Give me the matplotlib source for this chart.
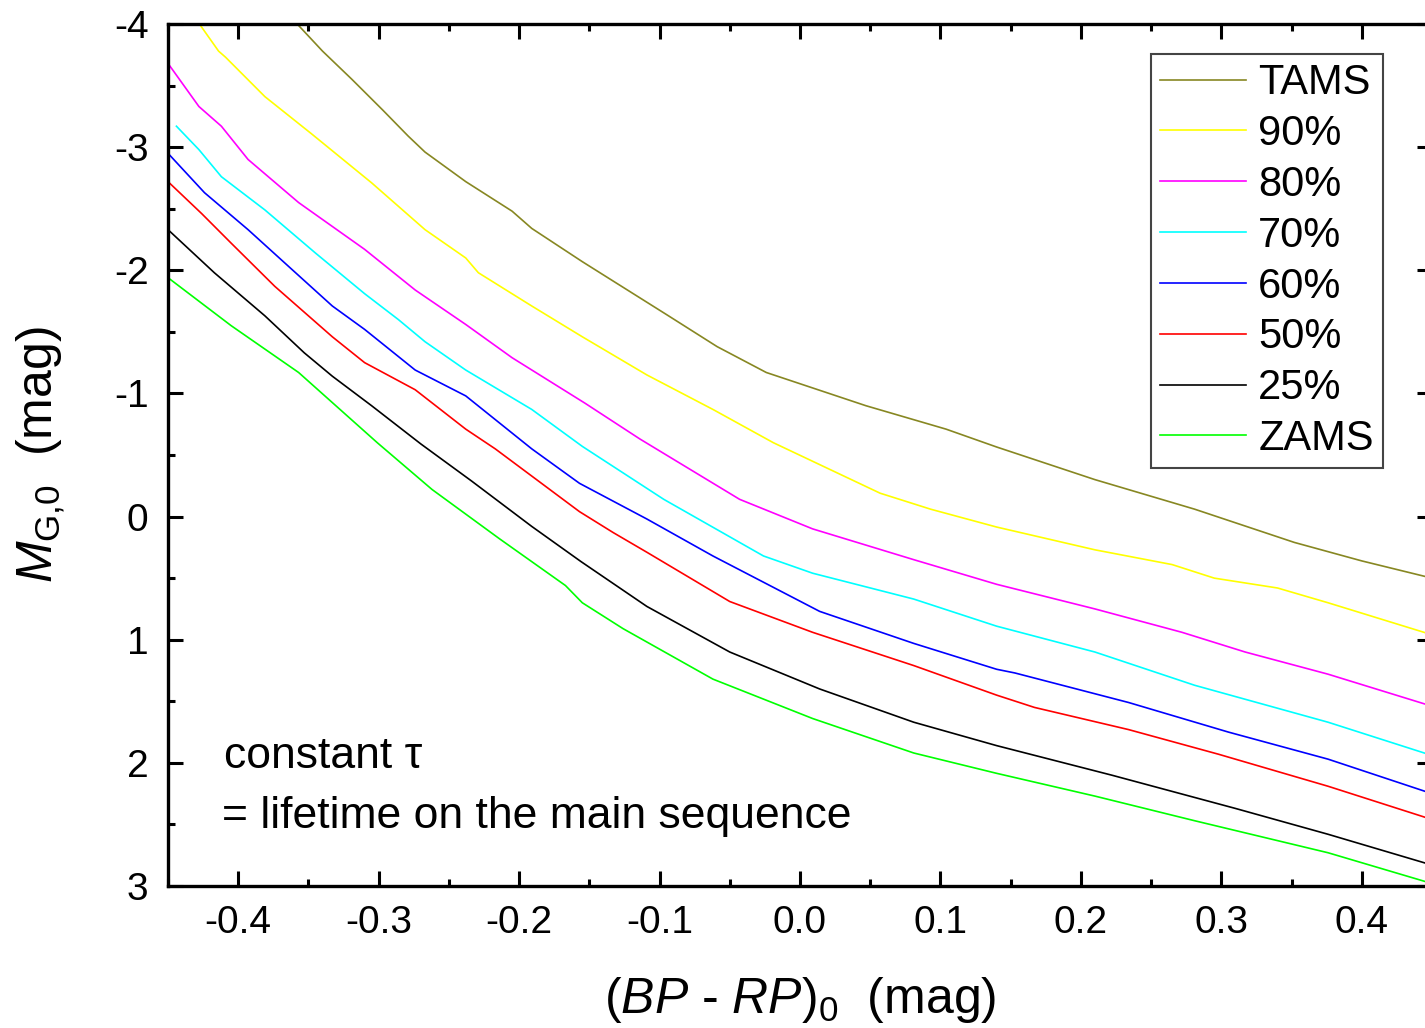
import matplotlib
matplotlib.use("Agg")
from matplotlib import pyplot as plt
from matplotlib.ticker import MultipleLocator, FormatStrFormatter

plt.rcParams['font.family'] = ['Liberation Sans', 'DejaVu Sans']
plt.rcParams['mathtext.fontset'] = 'custom'
plt.rcParams['mathtext.rm'] = 'Liberation Sans'
plt.rcParams['mathtext.it'] = 'Liberation Sans:italic'
plt.rcParams['axes.unicode_minus'] = False

### Donnees ###

tams_x = [-0.358, -0.340, -0.319, -0.297, -0.279, -0.267, -0.238, -0.205, -0.191, -0.155,
          -0.095, -0.059, -0.024, 0.047, 0.104, 0.140, 0.210, 0.281, 0.352, 0.400, 0.450]
tams_y = [-4.0, -3.78, -3.55, -3.30, -3.09, -2.96, -2.72, -2.48, -2.34, -2.07,
          -1.64, -1.38, -1.17, -0.90, -0.71, -0.565, -0.30, -0.06, 0.21, 0.36, 0.50]

p90_x = [-0.427, -0.414, -0.409, -0.381, -0.348, -0.305, -0.267, -0.238, -0.229, -0.191,
         -0.155, -0.109, -0.062, -0.019, 0.057, 0.093, 0.140, 0.210, 0.265, 0.295, 0.340,
         0.376, 0.413, 0.450]
p90_y = [-3.99, -3.78, -3.73, -3.41, -3.11, -2.71, -2.33, -2.10, -1.98, -1.71,
         -1.46, -1.15, -0.87, -0.60, -0.19, -0.06, 0.085, 0.27, 0.39, 0.50, 0.58,
         0.70, 0.83, 0.96]

p80_x = [-0.450, -0.428, -0.412, -0.393, -0.357, -0.310, -0.274, -0.238, -0.205, -0.153,
         -0.114, -0.043, 0.009, 0.081, 0.140, 0.210, 0.272, 0.317, 0.376, 0.450]
p80_y = [-3.68, -3.33, -3.17, -2.90, -2.55, -2.17, -1.84, -1.56, -1.29, -0.92,
         -0.63, -0.14, 0.10, 0.35, 0.55, 0.75, 0.94, 1.10, 1.28, 1.54]

p70_x = [-0.444, -0.428, -0.412, -0.381, -0.345, -0.310, -0.286, -0.267, -0.238, -0.191,
         -0.155, -0.097, -0.026, 0.009, 0.081, 0.140, 0.210, 0.281, 0.376, 0.450]
p70_y = [-3.17, -2.98, -2.76, -2.49, -2.14, -1.81, -1.60, -1.42, -1.19, -0.87,
         -0.57, -0.14, 0.32, 0.46, 0.67, 0.89, 1.10, 1.37, 1.67, 1.94]

p60_x = [-0.450, -0.424, -0.393, -0.364, -0.333, -0.310, -0.274, -0.238, -0.191, -0.157,
         -0.109, -0.062, 0.014, 0.081, 0.140, 0.153, 0.234, 0.305, 0.376, 0.450]
p60_y = [-2.95, -2.63, -2.33, -2.03, -1.71, -1.52, -1.19, -0.98, -0.55, -0.27,
         0.02, 0.32, 0.77, 1.03, 1.24, 1.27, 1.51, 1.75, 1.97, 2.25]

p50_x = [-0.450, -0.426, -0.405, -0.374, -0.333, -0.310, -0.274, -0.238, -0.217, -0.157,
         -0.133, -0.109, -0.050, 0.009, 0.081, 0.140, 0.167, 0.234, 0.298, 0.376, 0.450]
p50_y = [-2.72, -2.46, -2.22, -1.87, -1.46, -1.25, -1.03, -0.71, -0.55, -0.04,
         0.13, 0.29, 0.69, 0.94, 1.21, 1.45, 1.55, 1.73, 1.93, 2.19, 2.46]

p25_x = [-0.450, -0.417, -0.381, -0.353, -0.333, -0.305, -0.270, -0.234, -0.191, -0.156,
         -0.109, -0.050, 0.014, 0.081, 0.140, 0.222, 0.310, 0.376, 0.450]
p25_y = [-2.33, -1.98, -1.63, -1.33, -1.14, -0.90, -0.59, -0.29, 0.08, 0.365,
         0.73, 1.10, 1.40, 1.67, 1.86, 2.10, 2.37, 2.58, 2.83]

zams_x = [-0.450, -0.405, -0.357, -0.301, -0.262, -0.214, -0.167, -0.155, -0.126, -0.062,
          0.009, 0.081, 0.140, 0.210, 0.281, 0.376, 0.450]
zams_y = [-1.94, -1.55, -1.17, -0.60, -0.22, 0.18, 0.56, 0.70, 0.91, 1.32,
          1.64, 1.92, 2.085, 2.27, 2.47, 2.73, 2.98]

series = [
    ("TAMS", tams_x, tams_y, "#878722"),
    ("90%", p90_x, p90_y, "#ffff00"),
    ("80%", p80_x, p80_y, "#ff00ff"),
    ("70%", p70_x, p70_y, "#00ffff"),
    ("60%", p60_x, p60_y, "#0000ff"),
    ("50%", p50_x, p50_y, "#ff0000"),
    ("25%", p25_x, p25_y, "#000000"),
    ("ZAMS", zams_x, zams_y, "#00ff00"),
]

### Dessin ###

fig = plt.figure(figsize=(14.25, 10.28), dpi=100)
ax = fig.add_axes([168/1425, 1-886/1028, (1432-168)/1425, (886-24)/1028])

for nom, xs, ys, c in series:
    ax.plot(xs, ys, color=c, lw=1.2, label=nom)

ax.set_xlim(-0.45, 0.45)
ax.set_ylim(3, -4)
ax.xaxis.set_major_locator(MultipleLocator(0.1))
ax.xaxis.set_minor_locator(MultipleLocator(0.05))
ax.xaxis.set_major_formatter(FormatStrFormatter('%.1f'))
ax.yaxis.set_major_locator(MultipleLocator(1))
ax.yaxis.set_minor_locator(MultipleLocator(0.5))
ax.tick_params(which='both', direction='in', top=True, right=True, width=2.2)
ax.tick_params(which='major', length=11, labelsize=28, pad=14)
ax.tick_params(which='minor', length=5)
for s in ax.spines.values():
    s.set_linewidth(2.4)

ax.set_xlabel(r'($BP$ - $RP$)$_0$  (mag)', fontsize=36, labelpad=24)
ax.set_ylabel(r'$M_{\rm G{,}0}$  (mag)', fontsize=36, labelpad=34)

ax.text(224/1425, 1-768/1028, 'constant \u03c4', transform=fig.transFigure, fontsize=32)
ax.text(222/1425, 1-828/1028, '= lifetime on the main sequence', transform=fig.transFigure, fontsize=32)

leg = ax.legend(loc='upper right', bbox_to_anchor=(1383/1425, 1-54/1028), bbox_transform=fig.transFigure,
                fontsize=30, frameon=True, fancybox=False, framealpha=1, edgecolor='#444444',
                handlelength=2.05, handletextpad=0.3, labelspacing=0.26, borderpad=0.22,
                borderaxespad=0)
leg.get_frame().set_linewidth(1.5)

fig.savefig('out.png', dpi=100)
